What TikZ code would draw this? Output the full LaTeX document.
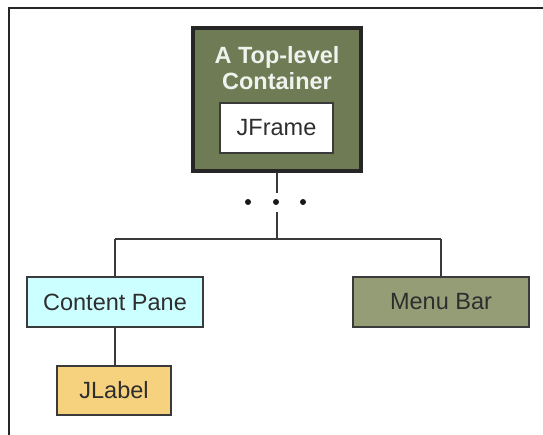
\documentclass[tikz,border=0pt]{standalone}
\usepackage{fontspec}
\setmainfont{Liberation Sans}
\definecolor{olivedark}{HTML}{6E7B54}
\definecolor{olivelight}{HTML}{959D76}
\definecolor{panecyan}{HTML}{CCFFFF}
\definecolor{labelgold}{HTML}{F6D27E}
\definecolor{edgegray}{HTML}{3A3A3A}
\definecolor{inktext}{HTML}{2E2E2E}
\begin{document}
\begin{tikzpicture}[x=1pt,y=-1pt,
  box/.style={draw=edgegray, line width=2.4pt, rectangle, inner sep=0pt,
    minimum width=#1, minimum height=50pt, text=inktext,
    font=\fontsize{23.5}{25}\selectfont},
  box/.default=176pt,
  link/.style={draw=edgegray, line width=2.4pt},
  dot/.style={circle, fill=black!90, inner sep=0pt, minimum size=6pt}]
  \useasboundingbox (0,0) rectangle (543,435);
  % outer frame: left and top edges only
  \draw[line width=2.2pt, black!85] (9,435) -- (9,8) -- (543,8);

  % top-level container
  \node[draw=black!85, line width=4pt, fill=olivedark, rectangle, inner sep=0pt,
        minimum width=168pt, minimum height=143pt] (top) at (277,99.5) {};
  \node[text=white!90!olivedark, font=\bfseries\fontsize{23.5}{24}\selectfont,
        align=center, inner sep=0pt] (title) at (277,68)
        {A Top-level\\[1.5pt]Container};
  \node[box=113pt, fill=white, minimum height=50pt] (jframe) at (276.5,128) {JFrame};

  % ellipsis between container and its panes
  \node[dot] (d1) at (248,202) {};
  \node[dot] (d2) at (276,202) {};
  \node[dot] (d3) at (303,202) {};

  % panes
  \node[box, fill=panecyan] (content) at (115,302) {Content Pane};
  \node[box, fill=olivelight] (menu) at (441,302) {Menu Bar};
  \node[box=114pt, fill=labelgold, minimum height=49pt] (jlabel) at (114,390.5) {JLabel};

  % connectors
  \coordinate (upper) at (277,193);
  \coordinate (lower) at (277,212);
  \coordinate (hub) at (277,239);
  \coordinate (leftturn) at (115,239);
  \coordinate (rightturn) at (441,239);
  \draw[link] (top.south -| upper) -- (upper);
  \draw[link] (lower) -- (hub);
  \draw[link] (leftturn) -- (rightturn);
  \draw[link] (leftturn) -- (content.north);
  \draw[link] (rightturn) -- (menu.north);
  \draw[link] (content.south) -- (content.south |- jlabel.north);
\end{tikzpicture}
\end{document}
